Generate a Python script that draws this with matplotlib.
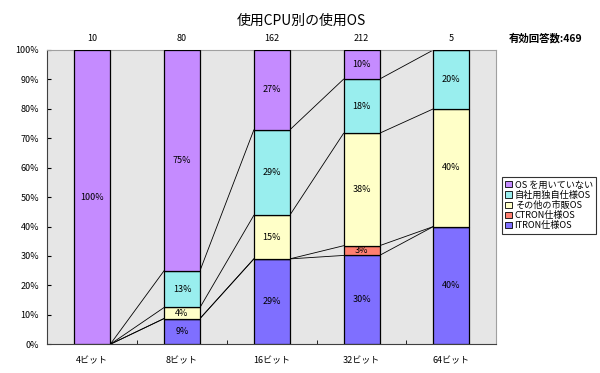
import matplotlib
matplotlib.use("Agg")
import matplotlib.pyplot as plt
from matplotlib.patches import Patch
import numpy as np

plt.rcParams['font.family'] = ['Noto Sans CJK JP', 'DejaVu Sans']

categories = ['4ビット', '8ビット', '16ビット', '32ビット', '64ビット']
totals = [10, 80, 162, 212, 5]
series_names = ['ITRON仕様OS', 'CTRON仕様OS', 'その他の市販OS', '自社用独自仕様OS', 'OS を用いていない']
itron = [0, 7, 47, 64, 2]
ctron = [0, 0, 0, 7, 0]
other = [0, 3, 24, 81, 2]
inhouse = [0, 10, 47, 39, 1]
no_os = [10, 60, 44, 21, 0]
colors = ['#7F6FFF', '#FF7F70', '#FFFFC8', '#99EEEE', '#C58BFF']

counts = np.array([itron, ctron, other, inhouse, no_os], dtype=float)
pct = counts / np.array(totals, dtype=float) * 100

fig = plt.figure(figsize=(6.0, 3.73), dpi=100)
ax = fig.add_axes([0.079, 0.077, 0.748, 0.789])
ax.set_facecolor('#E6E6E6')

x = np.arange(len(categories))
w = 0.4
bottom = np.zeros(len(categories))
for i, name in enumerate(series_names):
    vals = pct[i]
    ax.bar(x, vals, w, bottom=bottom, color=colors[i], edgecolor='black',
           linewidth=0.9, zorder=3)
    for j in range(len(categories)):
        if vals[j] > 0:
            ax.text(x[j], bottom[j] + vals[j] / 2, f'{int(np.floor(vals[j] + 0.5))}%',
                    ha='center', va='center', fontsize=6.5, zorder=4)
    top = bottom + vals
    # series lines
    for j in range(len(categories) - 1):
        ax.plot([x[j] + w / 2, x[j + 1] - w / 2], [top[j], top[j + 1]],
                color='black', linewidth=0.6, zorder=2)
    bottom = top

ax.set_xlim(-0.5, len(categories) - 0.5)
ax.set_ylim(0, 100)
ax.set_yticks(np.arange(0, 101, 10))
ax.set_yticklabels([f'{v}%' for v in range(0, 101, 10)], fontsize=6.5)
ax.set_xticks(x)
ax.set_xticklabels(categories, fontsize=6.5)
ax.set_xticks(np.arange(0.5, len(categories) - 0.5, 1), minor=True)
ax.tick_params(axis='x', which='major', length=0, pad=9)
ax.tick_params(axis='x', which='minor', length=3, direction='in')
ax.tick_params(axis='y', length=3, direction='in', pad=6)
for s in ['top', 'right']:
    ax.spines[s].set_color('#A0A0A0')
    ax.spines[s].set_linewidth(0.8)
for s in ['left', 'bottom']:
    ax.spines[s].set_color('#404040')
    ax.spines[s].set_linewidth(0.8)

for j in range(len(categories)):
    ax.text(x[j], 102.5, str(totals[j]), ha='center', va='bottom', fontsize=6.5)

fig.text(0.503, 0.945, '使用CPU別の使用OS', ha='center', va='center', fontsize=10)
fig.text(0.848, 0.898, f'有効回答数:{sum(totals)}', ha='left', va='center',
         fontsize=7.5, fontweight='bold')

handles = [Patch(facecolor=colors[i], edgecolor='black', linewidth=0.6,
                 label=series_names[i]) for i in range(len(series_names) - 1, -1, -1)]
leg = fig.legend(handles=handles, loc='upper left', bbox_to_anchor=(0.837, 0.525),
                 fontsize=6.6, frameon=True, fancybox=False, handlelength=0.7,
                 handleheight=0.7, handletextpad=0.3, borderpad=0.35,
                 labelspacing=0.12, borderaxespad=0)
leg.get_frame().set_edgecolor('black')
leg.get_frame().set_linewidth(0.8)

fig.savefig('out.png', dpi=100)
